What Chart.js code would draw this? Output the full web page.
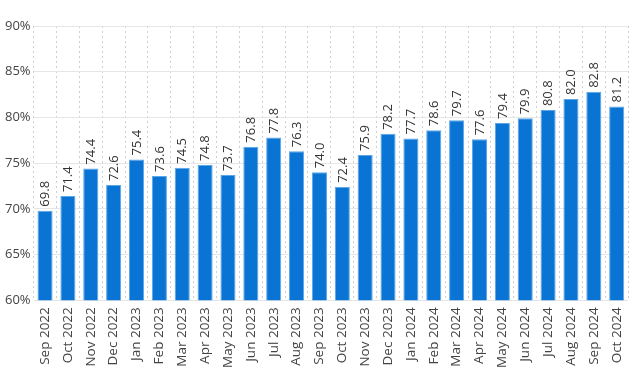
<!DOCTYPE html>
<html><head><meta charset="utf-8">
<script src="https://cdn.jsdelivr.net/npm/chart.js@4/dist/chart.umd.min.js"></script>
<style>html,body{margin:0;padding:0;background:#fff;}#wrap{width:640px;height:379px;}</style>
</head><body><div id="wrap"><canvas id="c" width="640" height="379"></canvas></div>
<script>
const categories = ["Sep 2022","Oct 2022","Nov 2022","Dec 2022","Jan 2023","Feb 2023","Mar 2023","Apr 2023","May 2023","Jun 2023","Jul 2023","Aug 2023","Sep 2023","Oct 2023","Nov 2023","Dec 2023","Jan 2024","Feb 2024","Mar 2024","Apr 2024","May 2024","Jun 2024","Jul 2024","Aug 2024","Sep 2024","Oct 2024"];
const values = [69.8,71.4,74.4,72.6,75.4,73.6,74.5,74.8,73.7,76.8,77.8,76.3,74.0,72.4,75.9,78.2,77.7,78.6,79.7,77.6,79.4,79.9,80.8,82.0,82.8,81.2];
const yMin = 60, yMax = 90, yStep = 5;

const labelPlugin = {
  id: 'vlabels',
  afterDatasetsDraw(chart) {
    const ctx = chart.ctx;
    const meta = chart.getDatasetMeta(0);
    ctx.save();
    ctx.font = '13px "Open Sans", sans-serif';
    ctx.fillStyle = '#333';
    ctx.textAlign = 'left';
    ctx.textBaseline = 'middle';
    meta.data.forEach((bar, i) => {
      ctx.save();
      ctx.translate(bar.x + 0.5, bar.y - 4);
      ctx.rotate(-Math.PI / 2);
      ctx.fillText(values[i].toFixed(1), 0, 0);
      ctx.restore();
    });
    ctx.restore();
  }
};

new Chart(document.getElementById('c'), {
  type: 'bar',
  data: { labels: categories, datasets: [{ data: values, backgroundColor: '#0a74d5', borderColor: '#5aa6e6', borderWidth: 1, categoryPercentage: 0.66, barPercentage: 1.0 }] },
  options: {
    responsive: false, animation: false,
    layout: { padding: { left: 2, right: 6, top: 26, bottom: 4 } },
    plugins: { legend: { display: false }, tooltip: { enabled: false } },
    scales: {
      x: {
        grid: { offset: true, color: '#cfcfcf', lineWidth: 1, drawTicks: false },
        border: { display: false, dash: [2,3] },
        ticks: { maxRotation: 90, minRotation: 90, autoSkip: false, color: '#444', font: { family: '"Open Sans", sans-serif', size: 13.5 }, padding: 7 }
      },
      y: {
        min: yMin, max: yMax,
        grid: { color: '#e6e6e6', drawTicks: false },
        border: { display: false },
        ticks: { stepSize: yStep, color: '#444', font: { family: '"Open Sans", sans-serif', size: 13 }, padding: 3, callback: v => v + '%' }
      }
    }
  },
  plugins: [labelPlugin]
});
</script></body></html>
